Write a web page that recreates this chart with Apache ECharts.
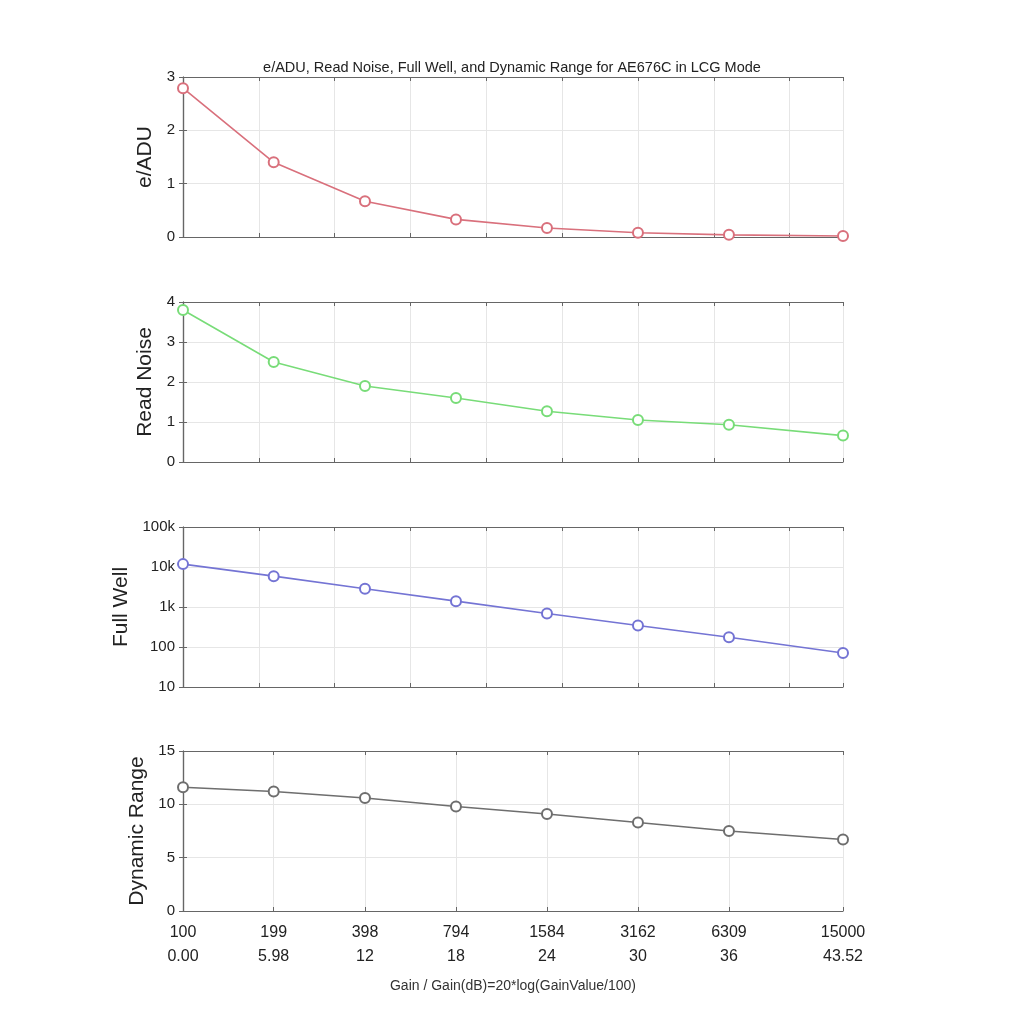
<!DOCTYPE html>
<html>
<head>
	<meta charset="utf-8">
	<title>AE676C LCG mode</title>
	<script src="https://cdn.jsdelivr.net/npm/echarts@6/dist/echarts.min.js"></script>
	<style>
		html, body { margin: 0; padding: 0; background: #fff; }
		#chart { width: 1024px; height: 1024px; }
	</style>
</head>
<body>
	<div id="chart"></div>
	<script>
		// gain values and their dB equivalents (x positions are in dB)
		var gainValues = ['100', '199', '398', '794', '1584', '3162', '6309', '15000'];
		var gainDb = [0, 5.98, 12, 18, 24, 30, 36, 43.52];
		var gainDbLabels = ['0.00', '5.98', '12', '18', '24', '30', '36', '43.52'];

		var eAdu = [2.79, 1.40, 0.67, 0.33, 0.17, 0.08, 0.04, 0.02];
		var readNoise = [3.80, 2.50, 1.90, 1.60, 1.27, 1.05, 0.93, 0.66];
		var fullWell = [11800, 5900, 2850, 1400, 690, 345, 175, 71];
		var dynamicRange = [11.6, 11.2, 10.6, 9.8, 9.1, 8.3, 7.5, 6.7];

		var fullWellTicks = { 10: '10', 100: '100', 1000: '1k', 10000: '10k', 100000: '100k' };

		var font = 'Liberation Sans';
		var axisColor = '#666';
		var gridColor = '#e6e6e6';
		var tops = [77, 302, 527, 751];
		var plotH = 160;

		var panels = [
			{ name: 'e/ADU', data: eAdu, color: '#d9707c', min: 0, max: 3, interval: 1, gap: 20 },
			{ name: 'Read Noise', data: readNoise, color: '#78dc78', min: 0, max: 4, interval: 1, gap: 24 },
			{ name: 'Full Well', data: fullWell, color: '#7474d4', min: 10, max: 100000, log: true, gap: 48 },
			{ name: 'Dynamic Range', data: dynamicRange, color: '#6e6e6e', min: 0, max: 15, interval: 5, gap: 32 }
		];

		function pairs(vals) {
			var out = [];
			for (var i = 0; i < vals.length; i++) {
				out.push([gainDb[i], vals[i]]);
			}
			return out;
		}

		function makeX(p, pos) {
			var last = (p == panels.length - 1);
			var ax = {
				type: 'value',
				gridIndex: p,
				position: pos,
				min: 0,
				max: 43.52,
				axisLine: { show: true, onZero: false, lineStyle: { color: axisColor, width: 1.2 } },
				axisTick: { show: true, inside: true, length: 4, lineStyle: { color: axisColor } },
				axisLabel: { show: false },
				splitLine: { show: pos == 'bottom', lineStyle: { color: gridColor, width: 1 } }
			};
			if (last) {
				ax.axisTick.customValues = gainDb;
				ax.axisLabel.customValues = gainDb;
			} else {
				ax.interval = 5;
			}
			if (last && pos == 'bottom') {
				ax.axisLabel = {
					show: true,
					customValues: gainDb,
					color: '#222',
					fontFamily: font,
					fontSize: 16,
					lineHeight: 24,
					margin: 10,
					formatter: function (v) {
						var i = gainDb.indexOf(v);
						return i < 0 ? '' : gainValues[i] + '\n' + gainDbLabels[i];
					}
				};
				ax.name = 'Gain / Gain(dB)=20*log(GainValue/100)';
				ax.nameLocation = 'middle';
				ax.nameGap = 68;
				ax.nameTextStyle = { color: '#333', fontFamily: font, fontSize: 14 };
			}
			return ax;
		}

		function makeY(p, pos) {
			var pn = panels[p];
			var ax = {
				gridIndex: p,
				position: pos,
				type: pn.log ? 'log' : 'value',
				min: pn.min,
				max: pn.max,
				axisLine: { show: true, lineStyle: { color: axisColor, width: 1.2 } },
				axisTick: { show: true, inside: true, length: 4, lineStyle: { color: axisColor } },
				axisLabel: { show: false },
				splitLine: { show: pos == 'left', lineStyle: { color: gridColor, width: 1 } }
			};
			if (pn.log) {
				ax.logBase = 10;
			} else {
				ax.interval = pn.interval;
			}
			if (pos == 'left') {
				ax.name = pn.name;
				ax.nameLocation = 'middle';
				ax.nameRotate = 90;
				ax.nameGap = pn.gap;
				ax.nameTextStyle = { color: '#222', fontFamily: font, fontSize: 21 };
				ax.axisLabel = {
					show: true,
					color: '#222',
					fontFamily: font,
					fontSize: 15,
					margin: 8,
					formatter: pn.log ? function (v) { return fullWellTicks[v] || ''; } : '{value}'
				};
			}
			return ax;
		}

		var grid = [], xAxis = [], yAxis = [], series = [];

		for (var p = 0; p < panels.length; p++) {
			var pn = panels[p];
			grid.push({ left: 183, right: 181, top: tops[p], height: plotH });
			xAxis.push(makeX(p, 'bottom'), makeX(p, 'top'));
			yAxis.push(makeY(p, 'left'), makeY(p, 'right'));

			series.push({
				type: 'line',
				name: pn.name,
				xAxisIndex: p * 2,
				yAxisIndex: p * 2,
				data: pairs(pn.data),
				symbol: 'emptyCircle',
				symbolSize: 10,
				showSymbol: true,
				color: pn.color,
				lineStyle: { color: pn.color, width: 1.6 },
				itemStyle: { color: pn.color, borderColor: pn.color, borderWidth: 1.2 },
				z: 3
			});
		}

		var myChart = echarts.init(document.getElementById('chart'));
		myChart.setOption({
			backgroundColor: '#fff',
			animation: false,
			title: {
				text: 'e/ADU, Read Noise, Full Well, and Dynamic Range for AE676C in LCG Mode',
				left: 'center',
				top: 55,
				textStyle: { color: '#222', fontFamily: font, fontSize: 14.5, fontWeight: 'normal' }
			},
			grid: grid,
			xAxis: xAxis,
			yAxis: yAxis,
			series: series
		});
	</script>
</body>
</html>
